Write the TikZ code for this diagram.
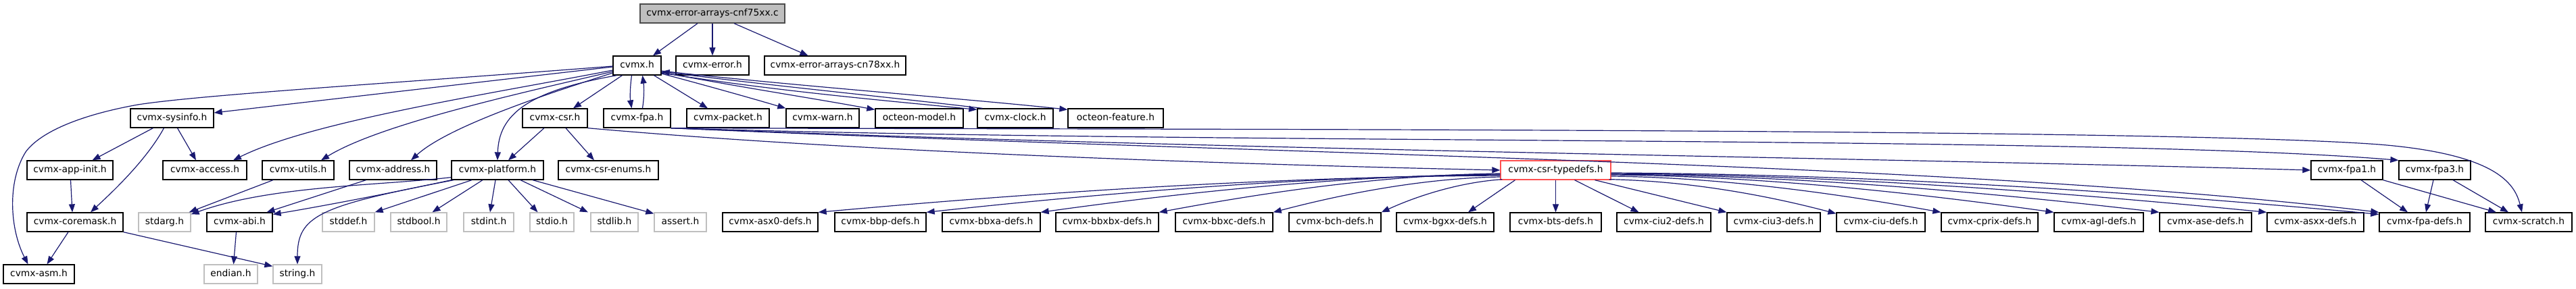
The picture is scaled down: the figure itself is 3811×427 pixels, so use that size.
\documentclass[tikz,border=0pt]{standalone}
\usepackage{fontspec}
\setmainfont{DejaVu Sans}
\usetikzlibrary{arrows.meta}
\definecolor{edgeblue}{HTML}{191970}
\definecolor{sysgray}{HTML}{BFBFBF}
\definecolor{rootfill}{HTML}{BFBFBF}
\definecolor{tdred}{HTML}{FF4F4F}
\tikzset{
 box/.style={draw=black, line width=1.3bp, minimum height=28bp, inner sep=0pt, text height=10.5bp, text depth=3bp, font=\fontsize{13.8bp}{16bp}\selectfont, fill=white},
 sysbox/.style={box, draw=sysgray},
 rootbox/.style={box, fill=rootfill, draw=black!70},
 redbox/.style={box, draw=tdred},
 edge/.style={draw=edgeblue, line width=1.2bp, -{Triangle[length=12bp,width=9bp]}},
}
\begin{document}
\begin{tikzpicture}[x=1bp,y=-1bp]
\useasboundingbox (0,0) rectangle (3811,427);
% rank 0/1
\node[rootbox, minimum width=214bp] (root) at (1054,20) {cvmx-error-arrays-cnf75xx.c};
\node[box, minimum width=71bp] (cvmx) at (942.5,97) {cvmx.h};
\node[box, minimum width=108bp] (error) at (1054,97) {cvmx-error.h};
\node[box, minimum width=209bp] (cn78) at (1235.5,97) {cvmx-error-arrays-cn78xx.h};
% rank 2
\node[box, minimum width=123bp] (sysinfo) at (254.5,175) {cvmx-sysinfo.h};
\node[box, minimum width=96bp] (csr) at (821,175) {cvmx-csr.h};
\node[box, minimum width=99bp] (fpa) at (942.5,175) {cvmx-fpa.h};
\node[box, minimum width=122bp] (packet) at (1077,175) {cvmx-packet.h};
\node[box, minimum width=108bp] (warn) at (1217,175) {cvmx-warn.h};
\node[box, minimum width=130bp] (model) at (1360,175) {octeon-model.h};
\node[box, minimum width=112bp] (clock) at (1502,175) {cvmx-clock.h};
\node[box, minimum width=141bp] (feature) at (1650.5,175) {octeon-feature.h};
% rank 3
\node[box, minimum width=127bp] (appinit) at (103.5,252) {cvmx-app-init.h};
\node[box, minimum width=124bp] (access) at (303,252) {cvmx-access.h};
\node[box, minimum width=106bp] (utils) at (441,252) {cvmx-utils.h};
\node[box, minimum width=129bp] (address) at (581.5,252) {cvmx-address.h};
\node[box, minimum width=136bp] (platform) at (736,252) {cvmx-platform.h};
\node[box, minimum width=148bp] (enums) at (900,252) {cvmx-csr-enums.h};
\node[redbox, minimum width=163bp] (typedefs) at (2301.5,252) {cvmx-csr-typedefs.h};
\node[box, minimum width=106bp] (fpa1) at (3472,252) {cvmx-fpa1.h};
\node[box, minimum width=106bp] (fpa3) at (3602,252) {cvmx-fpa3.h};
% rank 4
\node[box, minimum width=142bp] (coremask) at (111,329) {cvmx-coremask.h};
\node[sysbox, minimum width=77bp] (stdarg) at (243.5,329) {stdarg.h};
\node[box, minimum width=97bp] (abi) at (354.5,329) {cvmx-abi.h};
\node[sysbox, minimum width=77bp] (stddef) at (515.5,329) {stddef.h};
\node[sysbox, minimum width=83bp] (stdbool) at (619.5,329) {stdbool.h};
\node[sysbox, minimum width=74bp] (stdint) at (723,329) {stdint.h};
\node[sysbox, minimum width=65bp] (stdio) at (816.5,329) {stdio.h};
\node[sysbox, minimum width=70bp] (stdlib) at (909,329) {stdlib.h};
\node[sysbox, minimum width=77bp] (assert) at (1006.5,329) {assert.h};
\node[box, minimum width=141bp] (asx0) at (1139.5,329) {cvmx-asx0-defs.h};
\node[box, minimum width=135bp] (bbp) at (1302.5,329) {cvmx-bbp-defs.h};
\node[box, minimum width=145bp] (bbxa) at (1466.5,329) {cvmx-bbxa-defs.h};
\node[box, minimum width=152bp] (bbxbx) at (1638,329) {cvmx-bbxbx-defs.h};
\node[box, minimum width=144bp] (bbxc) at (1811,329) {cvmx-bbxc-defs.h};
\node[box, minimum width=136bp] (bch) at (1975,329) {cvmx-bch-defs.h};
\node[box, minimum width=144bp] (bgxx) at (2138,329) {cvmx-bgxx-defs.h};
\node[box, minimum width=135bp] (bts) at (2301.5,329) {cvmx-bts-defs.h};
\node[box, minimum width=139bp] (ciu2) at (2461.5,329) {cvmx-ciu2-defs.h};
\node[box, minimum width=138bp] (ciu3) at (2624,329) {cvmx-ciu3-defs.h};
\node[box, minimum width=131bp] (ciu) at (2782.5,329) {cvmx-ciu-defs.h};
\node[box, minimum width=143bp] (cprix) at (2943.5,329) {cvmx-cprix-defs.h};
\node[box, minimum width=132bp] (agl) at (3105,329) {cvmx-agl-defs.h};
\node[box, minimum width=136bp] (ase) at (3263,329) {cvmx-ase-defs.h};
\node[box, minimum width=143bp] (asxx) at (3425.5,329) {cvmx-asxx-defs.h};
\node[box, minimum width=134bp] (fpadefs) at (3587,329) {cvmx-fpa-defs.h};
\node[box, minimum width=128bp] (scratch) at (3741,329) {cvmx-scratch.h};
% rank 5
\node[box, minimum width=105bp] (asm) at (57.5,406) {cvmx-asm.h};
\node[sysbox, minimum width=79bp] (endian) at (341.5,406) {endian.h};
\node[sysbox, minimum width=72bp] (string) at (440,406) {string.h};

% ---- edges from root
\draw[edge] ([xshift=-22bp]root.south) -- ([xshift=23.5bp]cvmx.north);
\draw[edge] (root.south) -- (error.north);
\draw[edge] ([xshift=32bp]root.south) -- ([xshift=-40bp]cn78.north);
% ---- edges from cvmx.h
\draw[edge] ([yshift=-1bp]cvmx.west) .. controls (600,122) and (300,140) .. (204,155) .. controls (120,170) and (60,195) .. (38,225) .. controls (10,270) and (15,340) .. ([xshift=-16bp]asm.north);
\draw[edge] ([yshift=-2bp]cvmx.west) -- ([yshift=8bp]sysinfo.east);
\draw[edge] ([yshift=-7bp]cvmx.west) .. controls (720,140) and (460,180) .. ([xshift=42bp]access.north);
\draw[edge] ([yshift=-9bp]cvmx.west) .. controls (760,140) and (560,185) .. ([xshift=34bp]utils.north);
\draw[edge] ([yshift=-11bp]cvmx.west) .. controls (790,145) and (660,190) .. ([xshift=26.5bp]address.north);
\draw[edge] ([xshift=-30bp]cvmx.south) .. controls (780,135) and (738,170) .. (platform.north);
\draw[edge] ([xshift=-22bp]cvmx.south) -- ([xshift=27bp]csr.north);
\draw[edge] ([xshift=-8bp]cvmx.south) .. controls (932,130) and (932,145) .. ([xshift=-8bp]fpa.north);
\draw[edge] ([xshift=8bp]fpa.north) .. controls (953,145) and (953,130) .. ([xshift=8bp]cvmx.south);
\draw[edge] ([xshift=25bp]cvmx.south) -- ([xshift=-30bp]packet.north);
\draw[edge] ([yshift=-12bp]cvmx.east) .. controls (1050,128) and (1110,145) .. (warn.north west);
\draw[edge] ([yshift=-10bp]cvmx.east) .. controls (1100,130) and (1200,145) .. ([yshift=-2bp]model.north west);
\draw[edge] ([yshift=-11bp]cvmx.east) .. controls (1150,135) and (1300,148) .. ([yshift=-2bp]clock.north west);
\draw[edge] ([xshift=8bp]clock.north west) .. controls (1300,142) and (1150,128) .. ([yshift=-9bp]cvmx.east);
\draw[edge] ([yshift=-8bp]cvmx.east) .. controls (1150,125) and (1450,148) .. ([yshift=-2bp]feature.north west);
% ---- sysinfo & co
\draw[edge] ([xshift=-28bp]sysinfo.south) -- ([xshift=33bp]appinit.north);
\draw[edge] ([xshift=-12bp]sysinfo.south) .. controls (215,240) and (160,290) .. ([xshift=23bp]coremask.north);
\draw[edge] ([xshift=8bp]sysinfo.south) -- ([xshift=-13bp]access.north);
\draw[edge] ([xshift=1bp]appinit.south) -- ([xshift=-4bp]coremask.north);
\draw[edge] ([xshift=-10bp]coremask.south) -- ([xshift=12bp]asm.north);
\draw[edge] (coremask.south east) -- ([yshift=-3bp]string.north west);
\draw[edge] ([xshift=-37bp]utils.south) -- ([xshift=-3bp]stdarg.north east);
\draw[edge] ([xshift=-40bp]address.south) -- ([xshift=40bp]abi.north);
% ---- platform
\draw[edge] ([yshift=4bp]platform.south west) .. controls (560,275) and (400,275) .. ([yshift=-3bp]stdarg.north east);
\draw[edge] (platform.south west) .. controls (560,290) and (450,310) .. ([yshift=-3bp]abi.north east);
\draw[edge] ([xshift=4bp]platform.south west) .. controls (470,305) and (440,320) .. (string.north);
\draw[edge] ([xshift=-38bp]platform.south) -- (stddef.north east);
\draw[edge] ([xshift=-22bp]platform.south) -- ([xshift=20bp]stdbool.north);
\draw[edge] ([xshift=-3bp]platform.south) -- ([xshift=2bp]stdint.north);
\draw[edge] ([xshift=16bp]platform.south) -- ([xshift=-21bp]stdio.north);
\draw[edge] ([xshift=34bp]platform.south) -- ([xshift=-39bp]stdlib.north);
\draw[edge] ([xshift=52bp]platform.south) -- ([yshift=-2bp]assert.north west);
\draw[edge] ([xshift=-5bp]abi.south) -- ([xshift=4bp]endian.north);
% ---- csr
\draw[edge] ([xshift=-16bp]csr.south) -- ([xshift=16bp]platform.north);
\draw[edge] ([xshift=16bp]csr.south) -- ([xshift=-21bp]enums.north);
\draw[edge] (csr.south east) .. controls (1300,228) and (1900,245) .. (typedefs.west);
% ---- fpa long edges
\draw[edge] (fpa.south east) .. controls (1800,192) and (3200,190) .. (3520,214) .. controls (3690,228) and (3720,270) .. ([xshift=-10bp]scratch.north);
\draw[edge] (fpa.south east) .. controls (1800,215) and (3100,200) .. (fpa3.north west);
\draw[edge] (fpa.south east) .. controls (1800,222) and (2700,232) .. (fpa1.west);
\draw[edge] (fpa.south east) .. controls (1900,230) and (2900,240) .. (fpadefs.north west);
% ---- fpa1 / fpa3
\draw[edge] ([xshift=21bp]fpa1.south) -- ([xshift=-25bp]fpadefs.north);
\draw[edge] (fpa1.south east) -- ([xshift=-48bp]scratch.north);
\draw[edge] ([xshift=-2bp]fpa3.south) -- ([xshift=2bp]fpadefs.north);
\draw[edge] ([xshift=27bp]fpa3.south) -- ([xshift=-30bp]scratch.north);
% ---- typedefs fan-out
\draw[edge] ([yshift=-8bp]typedefs.west) .. controls (1866,262) and (1513,287) .. (asx0.north east);
\draw[edge] ([yshift=-7bp]typedefs.west) .. controls (1922,261) and (1625,287) .. (bbp.north east);
\draw[edge] ([yshift=-6bp]typedefs.west) .. controls (1982,260) and (1743,286) .. (bbxa.north east);
\draw[edge] ([yshift=-5bp]typedefs.west) .. controls (2043,259) and (1866,286) .. (bbxbx.north east);
\draw[edge] ([yshift=-10bp]typedefs.west) .. controls (2102,264) and (1984,288) .. (bbxc.north east);
\draw[edge] ([xshift=3bp,yshift=1bp]typedefs.south west) .. controls (2159,270) and (2097,290) .. (bch.north east);
\draw[edge] ([xshift=-60bp]typedefs.south) -- ([xshift=34bp]bgxx.north);
\draw[edge] (typedefs.south) -- (bts.north);
\draw[edge] ([xshift=28bp]typedefs.south) -- ([xshift=-37bp]ciu2.north);
\draw[edge] ([xshift=58bp]typedefs.south) -- (ciu3.north west);
\draw[edge] ([xshift=-3bp,yshift=1bp]typedefs.south east) .. controls (2500,268) and (2617,290) .. ([yshift=-2bp]ciu.north west);
\draw[edge] ([yshift=-9bp]typedefs.east) .. controls (2554,263) and (2725,288) .. (cprix.north west);
\draw[edge] ([yshift=-7bp]typedefs.east) .. controls (2613,261) and (2842,287) .. (agl.north west);
\draw[edge] ([yshift=-6bp]typedefs.east) .. controls (2667,260) and (2951,286) .. (ase.north west);
\draw[edge] ([yshift=-5bp]typedefs.east) .. controls (2723,259) and (3063,286) .. (asxx.north west);
\draw[edge] ([yshift=-4bp]typedefs.east) .. controls (2781,258) and (3179,286) .. ([yshift=-3bp]fpadefs.north west);
\end{tikzpicture}
\end{document}
